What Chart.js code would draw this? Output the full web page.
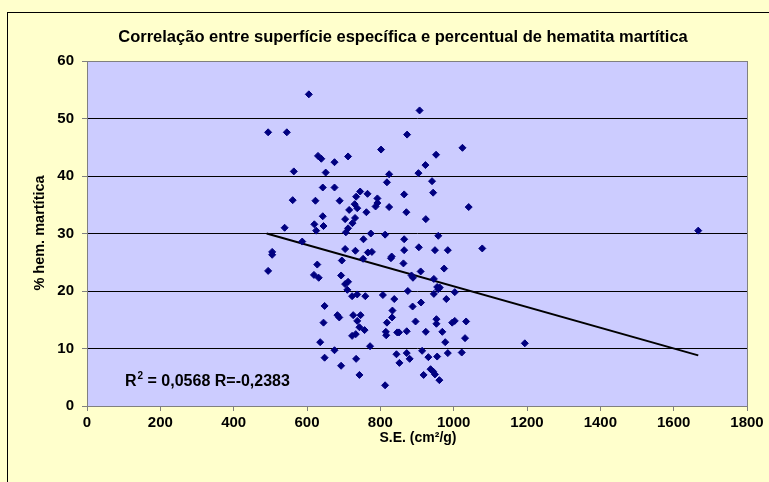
<!DOCTYPE html>
<html>
<head>
<meta charset="utf-8">
<script src="https://cdn.jsdelivr.net/npm/chart.js@4/dist/chart.umd.min.js"></script>
<style>
  html, body { margin: 0; padding: 0; background: #ffffff; overflow: hidden; }
  #wrap { width: 769px; height: 482px; position: relative; }
</style>
</head>
<body>
<div id="wrap"><canvas id="chart" width="769" height="482"></canvas></div>
<script>
// S.E. (cm2/g) vs % hematita martitica
const seValues = [
  605, 494, 545, 630, 639, 675, 712, 564, 651, 643, 675, 561, 623, 689, 745, 765,
  734, 730, 737, 715, 762, 787, 792, 643, 620, 645, 625, 539, 704, 731, 724, 712,
  706, 774, 754, 587,
  505, 505, 494, 628, 619, 632, 704, 732, 766, 777, 753, 695, 693, 704, 712, 710,
  723, 737, 759, 648, 683, 688, 645, 726, 746, 737, 743, 757, 723, 733, 636, 675,
  772, 648, 693, 734, 743,
  907, 873, 802, 1024, 952, 923, 904, 824, 818, 941, 944, 865, 792, 824, 871, 1041,
  924, 813, 958, 865,
  865, 905, 949, 984, 1078, 831, 829, 863, 974, 910, 885, 889, 946, 955, 962, 958,
  875, 1003, 946, 807, 838, 980, 911, 888, 833, 832, 953, 953, 896, 818, 1003, 996,
  1034, 815, 816, 846, 851, 872, 924, 969, 977, 1031, 914, 844, 872, 880, 852, 931,
  955, 984, 1022, 937, 944, 949, 918, 961, 813,
  1194, 1667
];
const hemValues = [
  54.2, 47.6, 47.6, 43.5, 43.0, 42.4, 43.4, 40.8, 40.6, 38.0, 38.0, 35.8, 35.7, 35.7, 37.3, 36.9,
  36.4, 35.1, 34.4, 34.1, 33.7, 34.7, 36.1, 33.0, 31.6, 31.3, 30.5, 31.0, 32.5, 32.7, 31.8, 30.9,
  30.2, 30.0, 29.0, 28.6,
  26.8, 26.3, 23.5, 24.6, 22.8, 22.3, 27.3, 27.0, 26.7, 26.8, 25.6, 25.3, 22.7, 21.2, 21.6, 20.2,
  19.1, 19.4, 19.1, 17.4, 15.8, 15.4, 14.5, 15.8, 15.8, 14.8, 13.7, 13.2, 12.2, 12.5, 11.1, 9.7,
  10.4, 8.4, 7.0, 8.2, 5.4,
  51.4, 47.2, 44.6, 44.9, 43.7, 41.9, 40.5, 40.3, 38.9, 39.1, 37.1, 36.8, 35.3, 34.6, 33.7, 34.6,
  32.5, 29.8, 29.6, 29.0,
  27.1, 27.6, 27.1, 27.1, 27.4, 26.0, 25.7, 24.8, 23.9, 23.4, 22.7, 22.3, 22.1, 20.7, 20.6, 20.3,
  20.0, 19.8, 19.5, 19.3, 18.6, 18.6, 18.0, 17.3, 16.6, 15.4, 15.1, 14.3, 14.7, 14.5, 14.8, 14.5,
  14.7, 12.9, 12.3, 12.8, 12.8, 13.0, 12.9, 12.9, 11.1, 11.8, 9.6, 9.0, 9.2, 8.2, 7.5, 8.5,
  8.6, 9.2, 9.3, 6.4, 6.0, 5.5, 5.4, 4.5, 3.6,
  10.9, 30.5
];

// linear trend line ends
const trendX = [490, 1667];
const trendY = [30.0, 8.8];

const xTicks = [0, 200, 400, 600, 800, 1000, 1200, 1400, 1600, 1800];
const yTicks = [0, 10, 20, 30, 40, 50, 60];

const chartTitle = 'Correlação entre superfície específica e percentual de hematita martítica';
const xTitle = 'S.E. (cm²/g)';
const yTitle = '% hem. martítica';
const statsText = ['R', '2', ' = 0,0568 R=-0,2383'];

const FONT = '"Liberation Sans", Arial, sans-serif';

const frame = {
    id: 'frame',
    beforeDraw(chart) {
        const c = chart.ctx;
        const a = chart.chartArea;
        c.save();
        c.fillStyle = '#ffffcc';
        c.fillRect(0, 0, chart.width, chart.height);
        c.strokeStyle = '#000000';
        c.lineWidth = 1;
        c.strokeRect(7.5, 12.5, 900, 600);
        c.fillStyle = '#ccccff';
        c.fillRect(a.left, a.top, a.right - a.left, a.bottom - a.top);
        c.restore();
    },
    afterDraw(chart) {
        const c = chart.ctx;
        const a = chart.chartArea;
        c.save();
        // plot border
        c.strokeStyle = '#808080';
        c.lineWidth = 1;
        c.strokeRect(a.left + 0.5, a.top + 0.5, a.right - a.left, a.bottom - a.top);

        c.fillStyle = '#000000';
        c.textAlign = 'center';
        c.textBaseline = 'middle';
        c.font = 'bold 16.5px ' + FONT;
        c.fillText(chartTitle, 403, 37);
        c.font = 'bold 14px ' + FONT;
        c.fillText(xTitle, 418, 438);

        c.save();
        c.translate(40, 233);
        c.rotate(-Math.PI / 2);
        c.font = 'bold 14.5px ' + FONT;
        c.fillText(yTitle, 0, 0);
        c.restore();

        // R² annotation
        c.textAlign = 'left';
        c.textBaseline = 'alphabetic';
        let x = 125;
        const base = 386;
        c.font = 'bold 16px ' + FONT;
        c.fillText(statsText[0], x, base);
        x += c.measureText(statsText[0]).width + 1;
        c.font = 'bold 10px ' + FONT;
        c.fillText(statsText[1], x, base - 7);
        x += c.measureText(statsText[1]).width;
        c.font = 'bold 16px ' + FONT;
        c.fillText(statsText[2], x, base);
        c.restore();
    }
};

const tickFont = { family: FONT, size: 15, weight: 'bold' };

new Chart(document.getElementById('chart'), {
    type: 'scatter',
    data: {
        datasets: [
            {
                label: 'dados',
                data: seValues.map((v, i) => ({ x: v, y: hemValues[i] })),
                pointStyle: 'rectRot',
                pointRadius: 3.5,
                backgroundColor: '#000080',
                borderColor: '#000080',
                borderWidth: 1
            },
            {
                type: 'line',
                label: 'tendência',
                data: trendX.map((v, i) => ({ x: v, y: trendY[i] })),
                borderColor: '#000000',
                borderWidth: 2,
                pointRadius: 0,
                fill: false
            }
        ]
    },
    options: {
        responsive: false,
        animation: false,
        devicePixelRatio: 1,
        layout: { padding: { left: 0, top: 61, right: 22, bottom: 0 } },
        plugins: {
            legend: { display: false },
            tooltip: { enabled: false }
        },
        scales: {
            x: {
                type: 'linear',
                min: 0, max: 1800,
                afterBuildTicks: s => { s.ticks = xTicks.map(v => ({ value: v })); },
                afterFit: s => { s.height = 76; },
                ticks: { color: '#000', font: tickFont, padding: 3, maxRotation: 0, callback: v => String(v) },
                grid: { drawOnChartArea: false, drawTicks: true, tickLength: 5, color: '#808080' },
                border: { color: '#808080' }
            },
            y: {
                type: 'linear',
                min: 0, max: 60,
                afterBuildTicks: s => { s.ticks = yTicks.map(v => ({ value: v })); },
                afterFit: s => { s.width = 87; },
                ticks: { color: '#000', font: tickFont, padding: 8, callback: v => String(v) },
                grid: { color: '#000000', lineWidth: 1, tickLength: 5, tickColor: '#808080' },
                border: { color: '#808080' }
            }
        }
    },
    plugins: [frame]
});
</script>
</body>
</html>
